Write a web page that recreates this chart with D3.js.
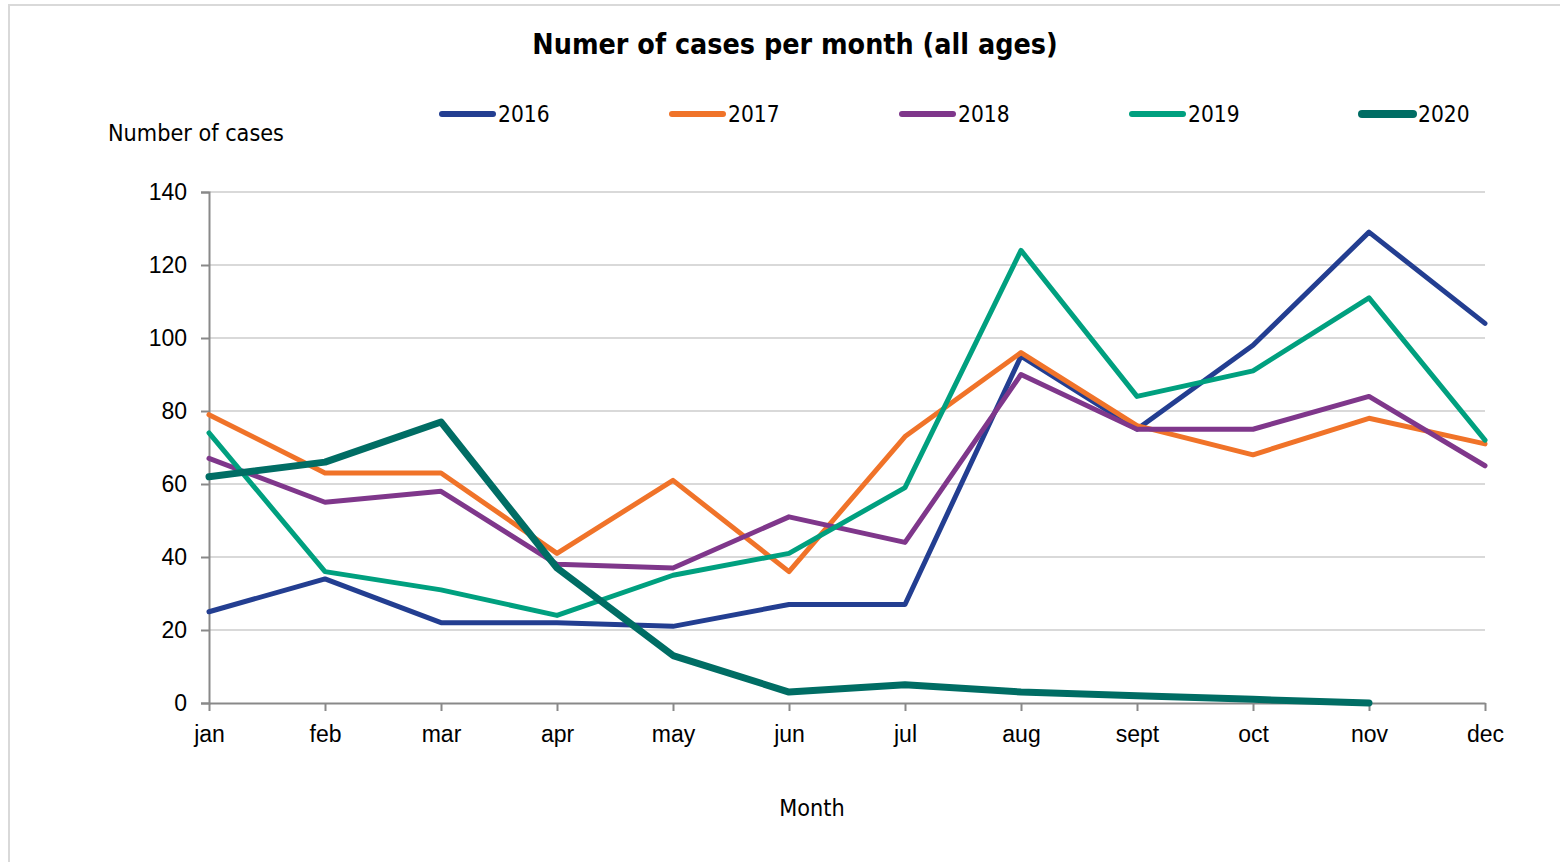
<!DOCTYPE html>
<html><head><meta charset="utf-8">
<script src="https://cdn.jsdelivr.net/npm/d3@7"></script>
<style>
body{margin:0;background:#fff;}
svg{display:block;font-family:"DejaVu Sans Condensed","DejaVu Sans",sans-serif;}
</style></head>
<body><svg id="c" width="1560" height="862"></svg>
<script>
const months = ["jan","feb","mar","apr","may","jun","jul","aug","sept","oct","nov","dec"];
const years = ["2016","2017","2018","2019","2020"];
const s2016 = [25,34,22,22,21,27,27,95,75,98,129,104];
const s2017 = [79,63,63,41,61,36,73,96,76,68,78,71];
const s2018 = [67,55,58,38,37,51,44,90,75,75,84,65];
const s2019 = [74,36,31,24,35,41,59,124,84,91,111,72];
const s2020 = [62,66,77,37,13,3,5,3,2,1,0,null];
const yTicks = [0,20,40,60,80,100,120,140];
const colors = ["#233E91","#F07329","#7F378B","#00A07F","#006D64"];
const widths = [5,5,5,5,7];
const seriesVals = [s2016,s2017,s2018,s2019,s2020];

const svg = d3.select("#c");
// frame
svg.append("path").attr("d","M9,862 V5 H1560").attr("fill","none").attr("stroke","#d9d9d9").attr("stroke-width",2);

const x = d3.scalePoint().domain(months).range([209,1485]);
const y = d3.scaleLinear().domain([0,140]).range([703,192]);

// gridlines
svg.append("g").selectAll("line").data(yTicks.filter(d=>d>0)).join("line")
  .attr("x1",209).attr("x2",1485).attr("y1",d=>y(d)).attr("y2",d=>y(d))
  .attr("stroke","#d9d9d9").attr("stroke-width",2);

// y axis
const ya = svg.append("g").attr("transform","translate(209,0)")
  .call(d3.axisLeft(y).tickValues(yTicks).tickSize(8).tickPadding(14));
ya.select(".domain").attr("stroke","#898989").attr("stroke-width",2);
ya.selectAll(".tick line").attr("stroke","#898989").attr("stroke-width",2);
ya.selectAll("text").attr("font-size",23).attr("fill","#000").attr("font-family","inherit");

// x axis
const xa = svg.append("g").attr("transform","translate(0,703)")
  .call(d3.axisBottom(x).tickSize(8).tickSizeOuter(0).tickPadding(15));
xa.select(".domain").attr("stroke","#898989").attr("stroke-width",2);
xa.selectAll(".tick line").attr("stroke","#898989").attr("stroke-width",2);
xa.selectAll("text").attr("font-size",23).attr("fill","#000").attr("font-family","inherit");

// lines
const line = d3.line().defined(d=>d.v!==null).x(d=>x(d.m)).y(d=>y(d.v));
seriesVals.forEach((vals,i)=>{
  const data = months.map((m,j)=>({m, v: vals[j]}));
  svg.append("path").datum(data).attr("d",line)
    .attr("fill","none").attr("stroke",colors[i]).attr("stroke-width",widths[i])
    .attr("stroke-linejoin","round").attr("stroke-linecap","round");
});

// title
svg.append("text").attr("x",795).attr("y",54).attr("text-anchor","middle")
  .attr("font-size",28.4).attr("font-weight","bold").text("Numer of cases per month (all ages)");
// y title
svg.append("text").attr("x",108).attr("y",141).attr("font-size",23.2).text("Number of cases");
// x title
svg.append("text").attr("x",812).attr("y",816).attr("text-anchor","middle").attr("font-size",23.2).text("Month");

// legend
const lg = svg.append("g");
years.forEach((yr,i)=>{
  const lx = 442 + i*230;
  lg.append("line").attr("x1",lx).attr("x2",lx+51).attr("y1",114).attr("y2",114)
    .attr("stroke",colors[i]).attr("stroke-width",widths[i]+1).attr("stroke-linecap","round");
  lg.append("text").attr("x",lx+56).attr("y",122).attr("font-size",22.5).text(yr);
});
</script></body></html>
